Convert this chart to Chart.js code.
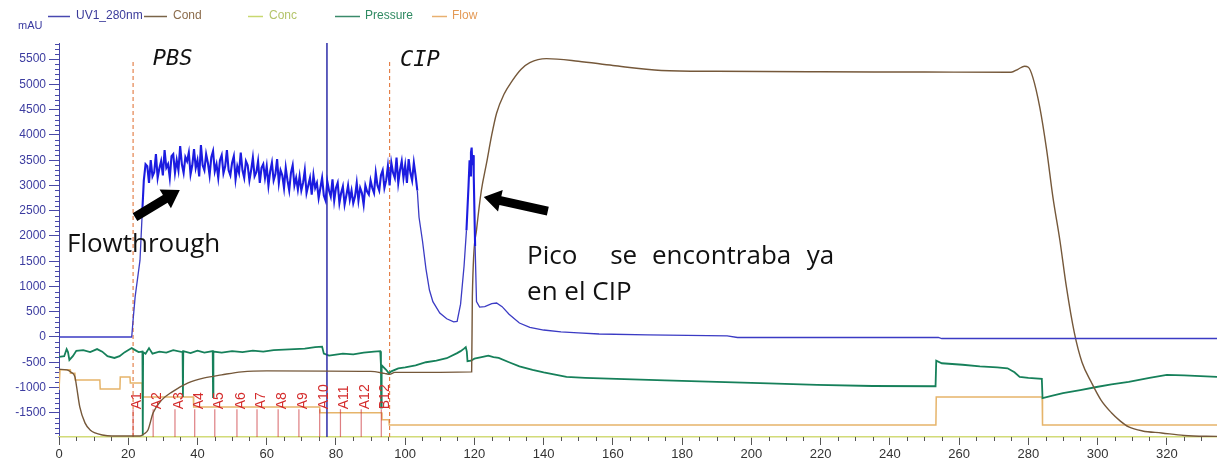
<!DOCTYPE html>
<html>
<head>
<meta charset="utf-8">
<script src="https://cdn.jsdelivr.net/npm/chart.js@4.4.1/dist/chart.umd.min.js"></script>
<style>
  html, body { margin: 0; padding: 0; background: #fff; }
  #wrap { width: 1217px; height: 468px; }
</style>
</head>
<body>
<div id="wrap"><canvas id="c" width="1217" height="468"></canvas></div>
<script>
// Ejes
const xTicks = [0, 20, 40, 60, 80, 100, 120, 140, 160, 180, 200, 220, 240, 260, 280, 300, 320];
const yTicks = [-1500, -1000, -500, 0, 500, 1000, 1500, 2000, 2500, 3000, 3500, 4000, 4500, 5000, 5500];

// UV1_280nm (mAU): subida, zona ruidosa (cada 0.5 min) y cola
const uvStartX = [0, 21, 21.4, 22, 23.4, 24];
const uvStartY = [0, 0, 336, 800, 1520, 2400];
const uvNoiseX0 = 24.5;
const uvNoiseStep = 0.5;
const uvNoise = [
  3100, 3420, 3380, 3050, 3500, 3180, 3260, 3620, 3150, 3340,
  3480, 3200, 3700, 3350, 3420, 3150, 3580, 3620, 3250, 3500,
  3300, 3780, 3420, 3250, 3560, 3480, 3650, 3220, 3400, 3720,
  3350, 3500, 3180, 3800, 3400, 3300, 3620, 3450, 3200, 3560,
  3680, 3280, 3420, 3150, 3500, 3600, 3240, 3380, 3700, 3300,
  3200, 3450, 3580, 3120, 3380, 3250, 3650, 3300, 3150, 3480,
  3400, 3100, 3300, 3550, 3180, 3260, 3480, 3050, 3350, 3420,
  3150, 3380, 3000, 3280, 3450, 3100, 3220, 3520, 3050, 3300,
  3200, 2950, 3350, 3100, 2900, 3250, 3400, 3000, 3150, 2920,
  3180, 2900, 3050, 3300, 2850, 3000, 3150, 2820, 3200, 2950,
  3050, 2750, 2950, 3150, 2800, 2700, 3080, 2900, 2780, 3120,
  2700, 2950, 3050, 2650, 2850, 2980, 2620, 2800, 3000, 2720,
  2900, 2650, 2780, 3050, 2700, 2950, 2850, 2620, 3000, 2880,
  2820, 3100, 2950, 2850, 3250, 3000, 2900, 3200, 3300, 2950,
  3100, 3380, 3000, 3450, 3250, 3150, 3550, 3050, 3300, 3480,
  3150, 3400, 3050, 3520, 3250, 3100, 3450, 3200
];
const uvTailX = [103.5, 104, 105, 106, 107, 108, 110, 112, 114, 115, 116, 117, 117.7, 118.3, 118.6, 118.8, 119.0, 119.2, 119.4, 119.6, 119.8, 120.2, 120.6, 121.5, 123, 125, 126.4, 128, 130, 133, 136, 140, 145, 150, 156, 170, 193, 196, 254, 255, 334.5];
const uvTailY = [2900, 2370, 1900, 1350, 930, 700, 474, 360, 300, 310, 650, 1400, 2114, 3000, 3500, 3200, 3650, 3750, 3400, 3600, 3200, 1800, 700, 593, 600, 660, 672, 600, 450, 277, 190, 138, 100, 80, 59, 40, 20, -10, -10, -30, -30];

// Cond (escala visual del gráfico)
const condX = [0, 2.3, 3.5, 4.6, 5.1, 6, 7.5, 9, 10.4, 12.5, 15.3, 23.4, 24.5, 25.7, 27.2, 29.7, 32.6, 37.3, 42, 47, 52.8, 60, 90, 94, 95.5, 97, 119.2, 119.4, 120.6, 122, 123.5, 125, 126.4, 128.5, 131, 133.5, 136, 140.8, 150, 160, 174, 190, 220, 250, 275, 277, 278.9, 280, 281.3, 283.3, 285.3, 287.1, 289.1, 291, 293.3, 295.5, 298.3, 301, 304, 306.5, 309, 313, 318.5, 325, 334.5];
const condY = [-640, -650, -700, -790, -990, -1385, -1700, -1840, -1900, -1940, -1960, -1960, -1920, -1840, -1500, -1245, -1090, -910, -810, -750, -690, -670, -680, -720, -740, -700, -690, 800, 2114, 2900, 3440, 4000, 4430, 4800, 5080, 5300, 5430, 5510, 5460, 5375, 5277, 5260, 5250, 5245, 5240, 5300, 5360, 5340, 5140, 4550, 3700, 2770, 1920, 990, 80, -500, -910, -1250, -1500, -1660, -1780, -1860, -1900, -1950, -1970];

// Conc
const concX = [0, 334.5];
const concY = [-1975, -1975];

// Pressure
const presX = [0, 1.5, 2.2, 2.6, 3, 4, 5, 7, 9, 11, 12.5, 14, 16, 17.5, 19, 21, 22, 23, 24.1, 24.2, 24.3, 25, 26, 27, 29, 31, 33, 35.7, 35.8, 35.9, 38, 40, 42, 44.4, 44.5, 44.6, 47, 50, 53, 56, 59, 62, 65, 68, 71, 74, 76, 76.5, 78, 80, 82, 85, 88, 91, 92.8, 93, 93.05, 93.2, 94.5, 95.3, 96, 98, 100, 103, 106, 109, 112, 115, 116, 117, 117.5, 117.8, 118, 119, 120, 122.4, 124, 125.5, 127, 130, 133, 136.8, 140, 146.6, 152, 161, 175, 190, 205, 219, 235, 253.2, 253.4, 255, 261, 266, 271, 274, 276, 277.5, 280, 283.9, 284.1, 287, 290, 295, 299.7, 304, 309, 315, 320, 325, 334.5];
const presY = [-395, -380, -240, -300, -455, -380, -275, -260, -300, -240, -290, -380, -415, -380, -300, -218, -260, -300, -290, -1950, -300, -330, -220, -330, -290, -310, -260, -300, -1190, -280, -320, -270, -310, -280, -1190, -290, -310, -280, -300, -270, -290, -260, -250, -240, -230, -200, -190, -330, -370, -350, -330, -345, -310, -290, -280, -560, -1400, -560, -650, -720, -680, -620, -600, -560, -500, -470, -420, -320, -280, -230, -200, -290, -480, -470, -430, -395, -370, -400, -415, -500, -580, -650, -700, -790, -810, -830, -860, -890, -920, -950, -970, -975, -470, -520, -550, -580, -600, -620, -700, -790, -810, -830, -1210, -1160, -1110, -1050, -990, -940, -890, -810, -750, -760, -790];

// Flow
const flowX = [0, 0.3, 3.2, 3.3, 4.6, 4.7, 11.8, 11.9, 17.6, 17.7, 20.5, 20.6, 24, 24.1, 38.8, 38.9, 75.3, 75.4, 93.2, 93.3, 95.3, 95.4, 253.3, 253.4, 284, 284.1, 334.5];
const flowY = [-1050, -650, -650, -720, -720, -850, -850, -1030, -1030, -790, -790, -910, -910, -1190, -1190, -1385, -1385, -1500, -1500, -1640, -1640, -1740, -1740, -1190, -1190, -1740, -1740];

// Fracciones
const fracX = [21.4, 27.2, 33.5, 39.2, 45, 51.4, 57.2, 63.3, 69.3, 75.3, 81.3, 87.3, 93.1];
const fracLabels = ["A1", "A2", "A3", "A4", "A5", "A6", "A7", "A8", "A9", "A10", "A11", "A12", "B12"];

// Marcas verticales
const injectX = [77.4];
const phaseX = [21.4, 95.5];

const Y_MIN = -1980, Y_MAX = 5820;

const pts = (xs, ys) => xs.map((x, i) => ({ x, y: ys[i] }));
const uvData = [
  ...pts(uvStartX, uvStartY),
  ...uvNoise.map((y, i) => ({ x: uvNoiseX0 + i * uvNoiseStep, y })),
  ...pts(uvTailX, uvTailY),
];

const lineDs = (data, color, width, extra) => Object.assign({
  data, borderColor: color, borderWidth: width, pointRadius: 0, fill: false, tension: 0,
}, extra || {});

// tramos ruidosos más gruesos, como en el cromatograma
const uvNoisy = (c) => {
  const a = c.p0.parsed.x, b = c.p1.parsed.x;
  return (a >= 24 && b <= 103.5) || (a >= 117.7 && b <= 120.2);
};

const datasets = [
  lineDs(uvData, "#3b3bc4", 1.3, {
    segment: {
      borderWidth: (c) => (uvNoisy(c) ? 2.1 : 1.3),
      borderColor: (c) => (uvNoisy(c) ? "#1c1ce0" : "#3b3bc4"),
    },
  }),
  lineDs(pts(condX, condY), "#75583a", 1.4, { cubicInterpolationMode: "monotone" }),
  ...injectX.map((x) => lineDs([{ x, y: Y_MIN }, { x, y: Y_MAX }], "#2c2ca8", 1.5)),
  lineDs(pts(presX, presY), "#16805a", 1.8),
  ...fracX.map((x) => lineDs([{ x, y: Y_MIN }, { x, y: -1430 }], "rgba(200,40,45,0.6)", 1.2)),
  ...phaseX.map((x) => lineDs([{ x, y: Y_MIN }, { x, y: 5450 }], "#e2783e", 1.1, { borderDash: [4, 3] })),
  lineDs(pts(flowX, flowY), "#e6b46a", 1.5),
  lineDs(pts(concX, concY), "#d2dc78", 1.5),
];

function arrow(ctx, x1, y1, x2, y2) {
  const a = Math.atan2(y2 - y1, x2 - x1);
  const len = Math.hypot(x2 - x1, y2 - y1);
  const hw = 4.5, hl = 17, hh = 11;
  ctx.save();
  ctx.translate(x1, y1);
  ctx.rotate(a);
  ctx.beginPath();
  ctx.moveTo(0, -hw);
  ctx.lineTo(len - hl, -hw);
  ctx.lineTo(len - hl, -hh);
  ctx.lineTo(len, 0);
  ctx.lineTo(len - hl, hh);
  ctx.lineTo(len - hl, hw);
  ctx.lineTo(0, hw);
  ctx.closePath();
  ctx.fillStyle = "#000";
  ctx.fill();
  ctx.restore();
}

const decor = {
  id: "decor",
  afterDatasetsDraw(chart) {
    const ctx = chart.ctx;
    const sx = chart.scales.x, sy = chart.scales.y;
    const X = (v) => sx.getPixelForValue(v);
    const Y = (v) => sy.getPixelForValue(v);
    const area = chart.chartArea;

    ctx.save();
    // ticks menores
    ctx.strokeStyle = "#4848a8";
    ctx.lineWidth = 1;
    ctx.beginPath();
    for (let v = -1900; v <= 5800; v += 100) {
      if (v % 500 === 0) continue;
      const y = Math.round(Y(v)) + 0.5;
      ctx.moveTo(area.left - 4, y);
      ctx.lineTo(area.left, y);
    }
    ctx.stroke();
    ctx.strokeStyle = "#555";
    ctx.beginPath();
    for (let v = 5; v <= 334; v += 5) {
      if (v % 20 === 0) continue;
      const x = Math.round(X(v)) + 0.5;
      ctx.moveTo(x, area.bottom);
      ctx.lineTo(x, area.bottom + 4);
    }
    ctx.stroke();

    // etiquetas de fracciones
    ctx.fillStyle = "#d42c2c";
    ctx.font = '14px "Liberation Sans"';
    ctx.textAlign = "left";
    ctx.textBaseline = "middle";
    fracX.forEach((x, i) => {
      ctx.save();
      ctx.translate(X(x) + 4, Y(-1430));
      ctx.rotate(-Math.PI / 2);
      ctx.fillText(fracLabels[i], 0, 0);
      ctx.restore();
    });

    // anotaciones
    ctx.fillStyle = "#111";
    ctx.textBaseline = "alphabetic";
    ctx.font = 'italic 22px "DejaVu Sans Mono"';
    ctx.fillText("PBS", X(27.1), Y(5380));
    ctx.fillText("CIP", X(98.5), Y(5360));

    ctx.font = '26px "Open Sans"';
    ctx.fillText("Flowthrough", X(2.3), Y(1680));
    const l1 = Y(1444);
    ctx.fillText("Pico", X(135.2), l1);
    ctx.fillText("se", X(159.2), l1);
    ctx.fillText("encontraba", X(171.3), l1);
    ctx.fillText("ya", X(216), l1);
    ctx.fillText("en el CIP", X(135.2), Y(732));

    arrow(ctx, X(21.95), Y(2374), X(34.9), Y(2908));
    arrow(ctx, X(141.2), Y(2493), X(122.7), Y(2770));
    ctx.restore();
  },
  afterDraw(chart) {
    const ctx = chart.ctx;
    ctx.save();
    ctx.font = '11px "Liberation Sans"';
    ctx.textBaseline = "middle";
    ctx.fillStyle = "#3a3aa0";
    ctx.fillText("mAU", 18, 26);
    const items = [
      ["UV1_280nm", "#4848b0", "#3a3a9a", 48, 70, 76],
      ["Cond", "#7a6448", "#8b6b4b", 144, 167, 173],
      ["Conc", "#c8d870", "#b4c46a", 248, 263, 269],
      ["Pressure", "#3a8a6a", "#2f8a62", 335, 360, 365],
      ["Flow", "#e8b070", "#e49a56", 432, 447, 452],
    ];
    ctx.font = '12px "Liberation Sans"';
    items.forEach(([label, lc, tc, a, b, t]) => {
      ctx.strokeStyle = lc;
      ctx.lineWidth = 1.5;
      ctx.beginPath();
      ctx.moveTo(a, 16.5);
      ctx.lineTo(b, 16.5);
      ctx.stroke();
      ctx.fillStyle = tc;
      ctx.fillText(label, t, 16);
    });
    ctx.restore();
  },
};

new Chart(document.getElementById("c"), {
  type: "line",
  data: { datasets },
  plugins: [decor],
  options: {
    responsive: false,
    animation: false,
    devicePixelRatio: 1,
    layout: { padding: { top: 43, left: 0, right: 0, bottom: 0 } },
    plugins: { legend: { display: false }, tooltip: { enabled: false } },
    elements: { point: { radius: 0 } },
    scales: {
      x: {
        type: "linear",
        min: 0,
        max: 334.5,
        afterBuildTicks: (s) => { s.ticks = xTicks.map((value) => ({ value })); },
        afterFit: (s) => { s.height = 31; },
        grid: { drawOnChartArea: false, tickLength: 8, color: "#555" },
        border: { color: "#d0d678", width: 1.5 },
        ticks: { color: "#333", font: { family: "Liberation Sans", size: 13 }, padding: 2, maxRotation: 0, autoSkip: false, callback: (v) => String(v) },
      },
      y: {
        type: "linear",
        min: Y_MIN,
        max: Y_MAX,
        afterBuildTicks: (s) => { s.ticks = yTicks.map((value) => ({ value })); },
        afterFit: (s) => { s.width = 59; },
        grid: { drawOnChartArea: false, tickLength: 10, color: "#4848a8" },
        border: { color: "#4848a8" },
        ticks: { color: "#3c3ca0", font: { family: "Liberation Sans", size: 12 }, padding: 3, callback: (v) => String(v) },
      },
    },
  },
});
</script>
</body>
</html>
